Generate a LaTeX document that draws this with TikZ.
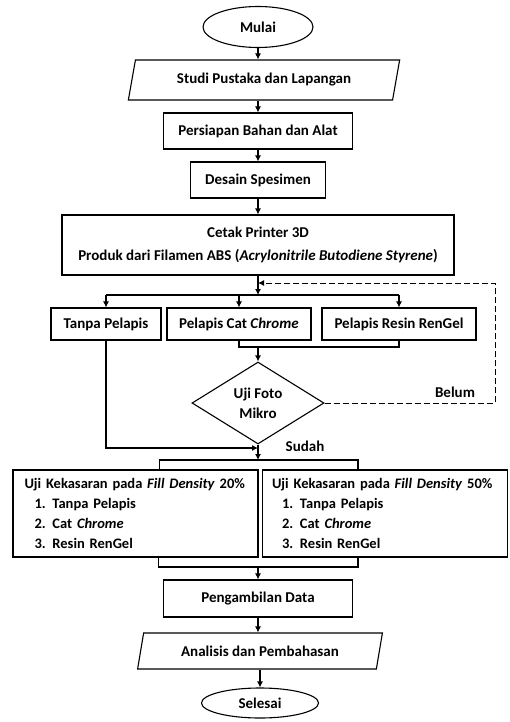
\documentclass[tikz,border=0pt]{standalone}
\usepackage{fontspec}
\setmainfont{Carlito}
\usetikzlibrary{shapes.geometric, arrows.meta, calc}

\begin{document}
\begin{tikzpicture}[x=1pt, y=1pt, line width=1.1pt,
    font=\fontsize{15}{20}\selectfont\bfseries,
    box/.style={draw, rectangle, inner sep=2pt},
    uji/.style={box, minimum width=245pt, minimum height=87pt, align=left,
                font=\fontsize{14.5}{20}\selectfont\bfseries},
    io/.style={draw, trapezium, trapezium left angle=74, trapezium right angle=106,
               trapezium stretches=true, inner sep=2pt},
    term/.style={draw, ellipse, inner sep=1pt},
    arr/.style={-{Latex[length=6pt, width=6pt]}},
    back/.style={arr, dashed, line width=1pt, dash pattern=on 6pt off 3pt}]
  \useasboundingbox (0,0) rectangle (509,-722);
  \def \itm#1#2{\hspace*{10pt}\makebox[18pt][l]{#1}#2}

  \node[term, minimum width=110pt, minimum height=41pt] (mulai) at (258,-27) {Mulai};
  \node[io, minimum width=272pt, minimum height=40pt] (studi) at (264,-80) {Studi Pustaka dan Lapangan};
  \node[box, minimum width=189pt, minimum height=36pt] (persiapan) at (258,-131) {Persiapan Bahan dan Alat};
  \node[box, minimum width=135pt, minimum height=36pt] (desain) at (258,-180) {Desain Spesimen};
  \node[box, minimum width=392pt, minimum height=60pt, align=center,
        font=\fontsize{15}{23}\selectfont\bfseries] (cetak) at (258,-245)
        {Cetak Printer 3D\\Produk dari Filamen ABS (\textit{Acrylonitrile Butodiene Styrene})};

  \node[box, minimum width=110pt, minimum height=32pt] (tanpa) at (106,-324) {Tanpa Pelapis};
  \node[box, minimum width=144pt, minimum height=32pt] (cat) at (239,-324) {Pelapis Cat \textit{Chrome}};
  \node[box, minimum width=154pt, minimum height=32pt] (resin) at (399,-324) {Pelapis Resin RenGel};

  \node[draw, diamond, aspect=1.6, inner sep=0pt, minimum width=132pt, minimum height=82pt,
        align=center] (foto) at (258,-403) {Uji Foto\\Mikro};
  \node (belum) at (455,-392) {Belum};
  \node (sudah) at (305,-446) {Sudah};

  \node[uji, text width=222pt] (uji20) at (135.5,-513.5)
        {Uji Kekasaran pada \textit{Fill Density} 20\%\\ \itm{1.}{Tanpa Pelapis}\\ \itm{2.}{Cat \textit{Chrome}}\\ \itm{3.}{Resin RenGel}};
  \node[uji, text width=226pt] (uji50) at (385,-513.5)
        {Uji Kekasaran pada \textit{Fill Density} 50\%\\ \itm{1.}{Tanpa Pelapis}\\ \itm{2.}{Cat \textit{Chrome}}\\ \itm{3.}{Resin RenGel}};

  \node[box, minimum width=189pt, minimum height=37pt] (data) at (258,-598.5) {Pengambilan Data};
  \node[io, minimum width=245pt, minimum height=36pt] (analisis) at (260,-651) {Analisis dan Pembahasan};
  \node[term, minimum width=117pt, minimum height=30pt] (selesai) at (260,-703) {Selesai};

  \coordinate (split) at (258,-295);
  \coordinate (corner) at (495,-283);
  \coordinate (return) at (258,-283);
  \coordinate (join) at (258,-347);
  \coordinate (meet) at (258,-448);
  \coordinate (fork) at (258,-460);
  \coordinate (merge) at (258,-567);

  \path (mulai) edge[arr] (mulai |- studi.north);
  \path (studi.south -| persiapan) edge[arr] (persiapan);
  \path (persiapan) edge[arr] (desain);
  \path (desain) edge[arr] (cetak);
  \draw[arr] (cetak) -- (split);
  \draw (tanpa.north |- split) -- (resin.north |- split);
  \foreach \n in {tanpa, cat, resin}
    \draw[arr] (\n.north |- split) -- (\n);
  \draw (cat.south) |- (join) -| (resin.south);
  \draw[arr] (join) -- (foto);
  \draw[back] (foto.east) -| (corner) -- (return);
  \draw[arr] (tanpa) |- (meet);
  \draw[arr] (foto) -- (fork);
  \draw ($(uji20.north)+(24,0)$) |- (fork) -| ($(uji50.north)+(-27,0)$);
  \draw ($(uji20.south)+(23,0)$) |- (merge) -| ($(uji50.south)+(-27,0)$);
  \draw[arr] (merge) -- (data);
  \path (data) edge[arr] (data |- analisis.north);
  \path (analisis.south -| selesai) edge[arr] (selesai);
\end{tikzpicture}
\end{document}
